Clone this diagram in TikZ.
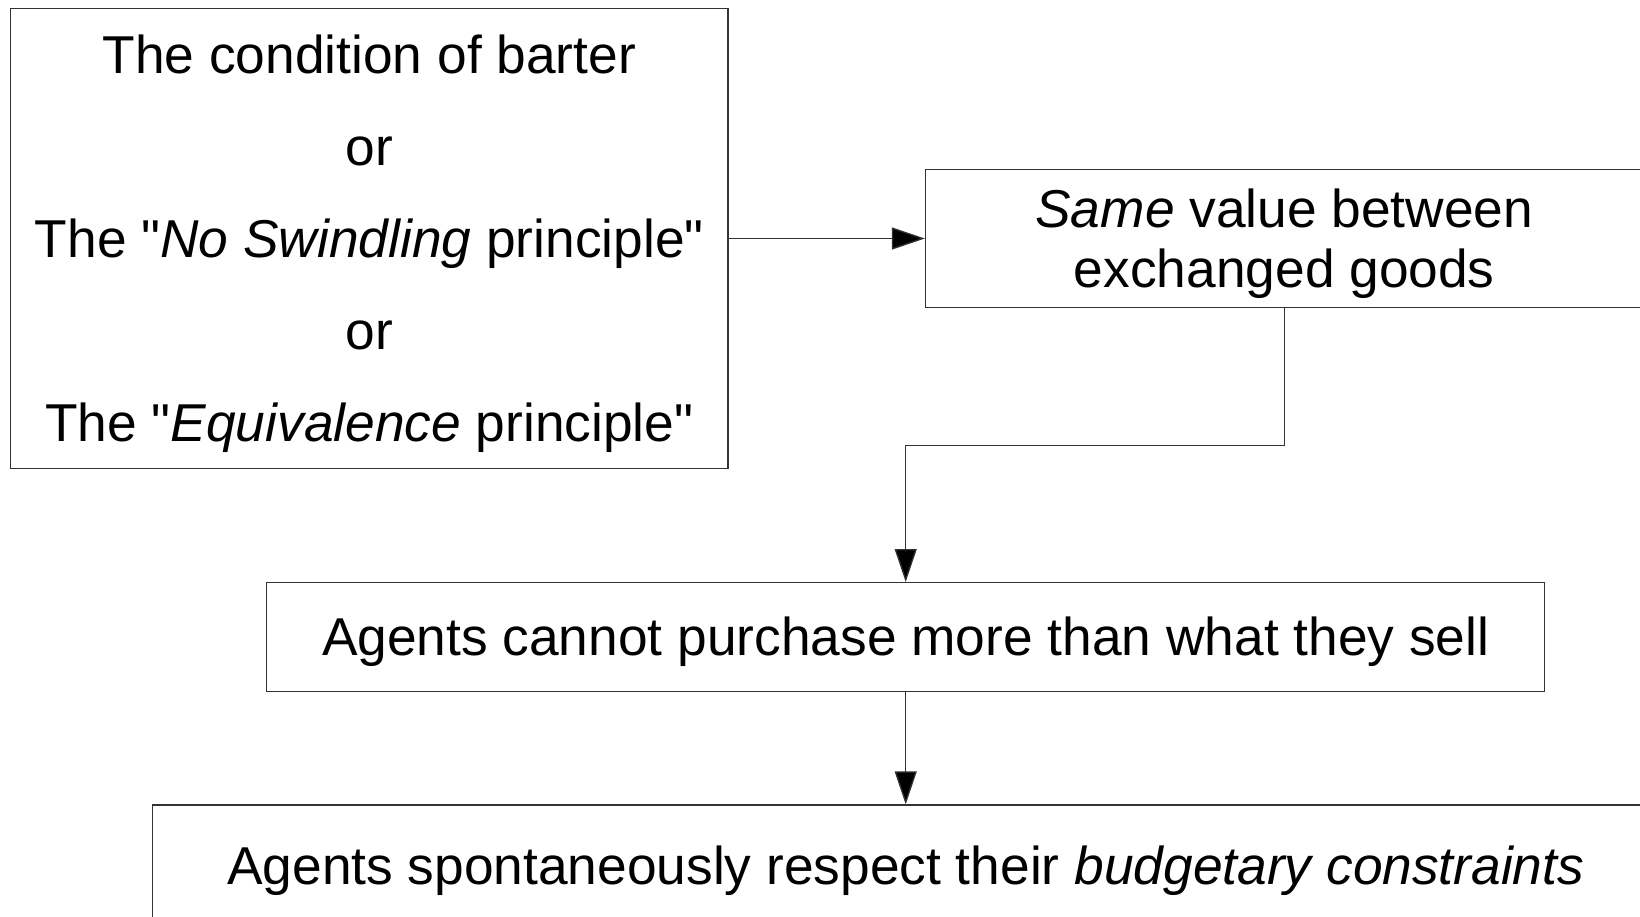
\documentclass[tikz,border=0pt]{standalone}
\usepackage{fontspec}
\setmainfont{Liberation Sans}
\usetikzlibrary{arrows.meta,positioning}

\newcommand{\upstrut}{\rule{0pt}{0.92em}}
\tikzset{
  box/.style = {draw = black!80, line width = 1.3pt, shape = rectangle, inner sep = 0pt, align = center, font = \fontsize{53.3}{60}\selectfont},
  arr/.style = {draw = black!80, line width = 1.3pt, -{Triangle[length = 33pt, width = 22pt, fill = black]}}
}

\begin{document}
\begin{tikzpicture}[x = 1pt, y = -1pt]
\clip (0,0) rectangle (1640,916);
\node[box, minimum width = 717.5pt, minimum height = 460pt, font = \fontsize{53.3}{92}\selectfont] (barter) at (369.3,238.5)
  {\upstrut The condition of barter\\ or\\ The \textquotedbl\textit{No Swindling} principle\textquotedbl\\ or\\ The \textquotedbl\textit{Equivalence} principle\textquotedbl};
\node[box, minimum width = 717.5pt, minimum height = 138pt] (value) at (1284.3,238.5)
  {\upstrut\textit{Same} value between\\ exchanged goods};
\node[box, minimum width = 1278pt, minimum height = 108.7pt] (purchase) at (905.7,637)
  {\upstrut Agents cannot purchase more than what they sell};
\node[box, minimum width = 1507pt, minimum height = 120pt] (budget) at (905.7,865)
  {\upstrut Agents spontaneously respect their \textit{budgetary constraints}};
\coordinate (elbow) at (905.7,445.5);

\draw[arr] (barter.east) -- (value.west);
\draw[arr] (value.south) |- (elbow) -- (purchase.north);
\draw[arr] (purchase.south) -- (budget.north);
\end{tikzpicture}
\end{document}
